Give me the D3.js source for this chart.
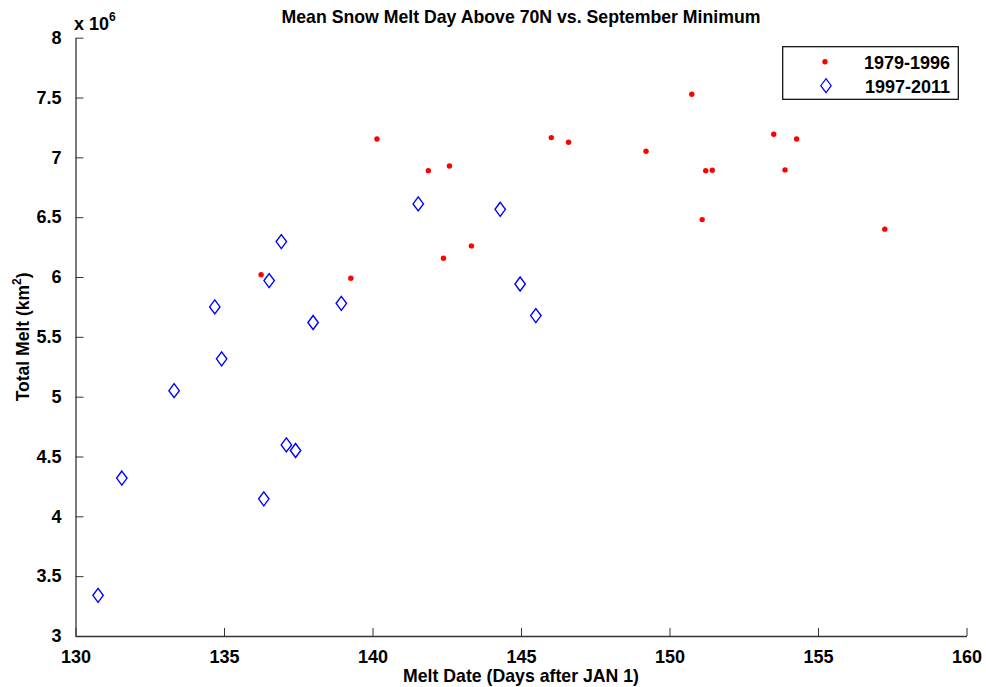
<!DOCTYPE html>
<html>
<head>
<meta charset="utf-8">
<script src="https://cdn.jsdelivr.net/npm/d3@7"></script>
<style>
  body { margin: 0; background: #fff; }
  svg { display: block; font-family: "Liberation Sans", Arial, sans-serif; }
</style>
</head>
<body>
<svg id="chart" width="986" height="687"></svg>
<script>
// Melt date (days after Jan 1) and total melt (units of 10^6 km^2)
const earlyDays = [136.25, 139.27, 140.15, 141.88, 142.59, 142.39, 143.33, 146.02, 146.6,
                   149.21, 150.75, 151.1, 151.22, 151.44, 153.51, 153.89, 154.28, 157.25];
const earlyMelt = [6.02, 5.99, 7.154, 6.889, 6.928, 6.157, 6.26, 7.165, 7.126,
                   7.051, 7.527, 6.48, 6.889, 6.892, 7.193, 6.895, 7.154, 6.40];
const lateDays = [130.76, 131.56, 133.32, 134.69, 134.92, 136.34, 136.52, 136.93,
                  137.1, 137.41, 138.0, 138.95, 141.54, 144.3, 144.97, 145.5];
const lateMelt = [3.34, 4.32, 5.05, 5.75, 5.316, 4.146, 5.97, 6.296,
                  4.597, 4.55, 5.62, 5.78, 6.611, 6.566, 5.942, 5.678];
const xTicks = [130, 135, 140, 145, 150, 155, 160];
const yTicks = [3, 3.5, 4, 4.5, 5, 5.5, 6, 6.5, 7, 7.5, 8];
const seriesNames = ["1979-1996", "1997-2011"];

const svg = d3.select("#chart");
const L = 75.5, R = 966.5, T = 37.7, B = 636;
const x = d3.scaleLinear().domain([130, 160]).range([L, R]);
const y = d3.scaleLinear().domain([3, 8]).range([B, T]);

const early = earlyDays.map((d, i) => ({ d, m: earlyMelt[i] }));
const late = lateDays.map((d, i) => ({ d, m: lateMelt[i] }));

const diamond = (hw, hh) => `M0,${-hh}L${hw},0L0,${hh}L${-hw},0Z`;

// axes (left and bottom only, ticks pointing inward)
const xAxis = d3.axisBottom(x).tickValues(xTicks).tickSizeInner(-8).tickSizeOuter(0).tickPadding(14);
const yAxis = d3.axisLeft(y).tickValues(yTicks).tickSizeInner(-8).tickSizeOuter(0).tickPadding(14)
  .tickFormat(d3.format("~g"));

const gx = svg.append("g").attr("transform", `translate(0,${B})`).call(xAxis);
const gy = svg.append("g").attr("transform", `translate(${L},0)`).call(yAxis);
[gx, gy].forEach(g => {
  g.select(".domain").attr("stroke", "#333").attr("stroke-width", 1.3);
  g.selectAll(".tick line").attr("stroke", "#333").attr("stroke-width", 1);
  g.selectAll(".tick text").attr("fill", "#000").attr("font-size", 18).attr("font-weight", "bold")
    .attr("font-family", "Liberation Sans, Arial, sans-serif");
});
gx.selectAll(".tick text").attr("dy", "0.71em");
gy.selectAll(".tick text").attr("dx", 0);

// exponent label
const ex = svg.append("text").attr("x", 74).attr("y", 30).attr("font-size", 18).attr("font-weight", "bold");
ex.append("tspan").text("x 10");
ex.append("tspan").attr("font-size", 12).attr("dy", -9).text("6");

// title
svg.append("text").attr("x", (L + R) / 2).attr("y", 23).attr("text-anchor", "middle")
  .attr("font-size", 17.7).attr("font-weight", "bold").attr("fill", "#000")
  .text("Mean Snow Melt Day Above 70N vs. September Minimum");

// axis labels
svg.append("text").attr("x", (L + R) / 2).attr("y", 682).attr("text-anchor", "middle")
  .attr("font-size", 17.7).attr("font-weight", "bold")
  .text("Melt Date (Days after JAN 1)");

const yl = svg.append("text").attr("transform", `translate(29,${(T + B) / 2}) rotate(-90)`)
  .attr("text-anchor", "middle").attr("font-size", 17.5).attr("font-weight", "bold");
yl.append("tspan").text("Total Melt (km");
yl.append("tspan").attr("font-size", 12).attr("dy", -8).text("2");
yl.append("tspan").attr("dy", 8).text(")");

// points
svg.append("g").selectAll("circle").data(early).join("circle")
  .attr("cx", p => x(p.d)).attr("cy", p => y(p.m)).attr("r", 2.7).attr("fill", "#ff0000");

svg.append("g").selectAll("path").data(late).join("path")
  .attr("transform", p => `translate(${x(p.d)},${y(p.m)})`)
  .attr("d", diamond(5.2, 7)).attr("fill", "none").attr("stroke", "#0000ff").attr("stroke-width", 1.4);

// legend
const lg = svg.append("g");
lg.append("rect").attr("x", 782.7).attr("y", 46.7).attr("width", 175.6).attr("height", 52.6)
  .attr("fill", "#fff").attr("stroke", "#000").attr("stroke-width", 1.2);
lg.append("circle").attr("cx", 825).attr("cy", 61.7).attr("r", 2.7).attr("fill", "#ff0000");
lg.append("path").attr("transform", "translate(826,85.7)").attr("d", diamond(5.2, 7))
  .attr("fill", "none").attr("stroke", "#0000ff").attr("stroke-width", 1.2);
seriesNames.forEach((s, i) => {
  lg.append("text").attr("x", 950).attr("y", 68.5 + i * 24).attr("text-anchor", "end")
    .attr("font-size", 18).attr("font-weight", "bold").text(s);
});
</script>
</body>
</html>
